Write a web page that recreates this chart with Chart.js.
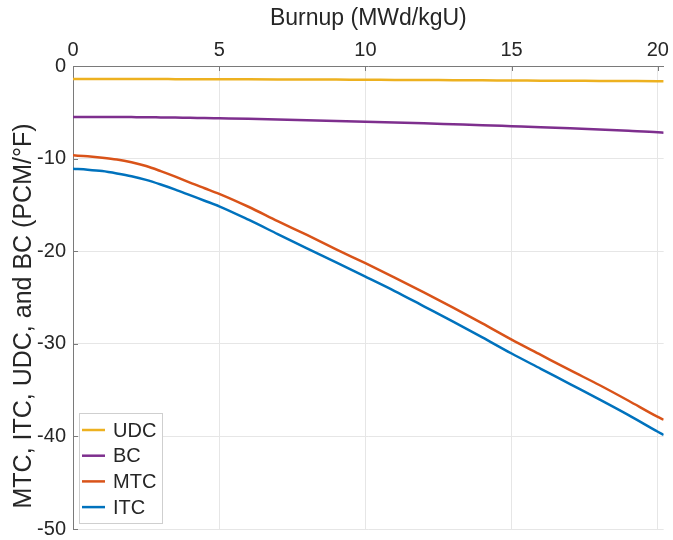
<!DOCTYPE html>
<html>
<head>
<meta charset="utf-8">
<script src="https://cdn.jsdelivr.net/npm/chart.js@4/dist/chart.umd.min.js"></script>
<style>
  html, body { margin: 0; padding: 0; background: #ffffff; }
  #wrap { width: 673px; height: 540px; position: relative; }
</style>
</head>
<body>
<div id="wrap"><canvas id="c" width="673" height="540"></canvas></div>
<script>
// ---- data ----
const burnup = [0, 0.5, 1, 1.5, 2, 2.5, 3, 3.5, 4, 4.5, 5, 6, 7, 8, 9, 10, 11, 12, 13, 14, 15, 16, 17, 18, 19, 20, 20.2];
const udc = [-1.40, -1.40, -1.40, -1.40, -1.41, -1.41, -1.41, -1.42, -1.42, -1.43, -1.43, -1.44, -1.45, -1.46, -1.47, -1.49, -1.50, -1.52, -1.53, -1.55, -1.56, -1.58, -1.59, -1.61, -1.62, -1.64, -1.65];
const bc  = [-5.50, -5.50, -5.50, -5.51, -5.52, -5.53, -5.55, -5.57, -5.60, -5.62, -5.65, -5.71, -5.78, -5.85, -5.93, -6.01, -6.10, -6.19, -6.29, -6.39, -6.50, -6.61, -6.73, -6.86, -7.00, -7.15, -7.20];
const mtc = [-9.65, -9.75, -9.90, -10.10, -10.40, -10.80, -11.35, -11.95, -12.60, -13.20, -13.80, -15.20, -16.75, -18.25, -19.80, -21.30, -22.85, -24.45, -26.10, -27.80, -29.55, -31.20, -32.85, -34.45, -36.15, -37.90, -38.20];
const itc = [-11.10, -11.20, -11.35, -11.60, -11.90, -12.30, -12.80, -13.35, -13.95, -14.55, -15.15, -16.60, -18.15, -19.70, -21.20, -22.75, -24.30, -25.95, -27.60, -29.30, -31.05, -32.70, -34.35, -36.00, -37.70, -39.50, -39.85];
const seriesNames = ['UDC', 'BC', 'MTC', 'ITC'];
const xTicks = [0, 5, 10, 15, 20];
const yTicks = [0, -10, -20, -30, -40, -50];
const xTitle = 'Burnup (MWd/kgU)';
const yTitle = 'MTC, ITC, UDC, and BC (PCM/°F)';

const colors = ['#EDB120', '#7E2F8E', '#D95319', '#0072BD'];
const textColor = '#262626';
const fontFamily = '"Liberation Sans", Arial, sans-serif';
const seriesValues = [udc, bc, mtc, itc];

const datasets = seriesValues.map((vals, i) => ({
  label: seriesNames[i],
  data: burnup.map((x, k) => ({ x: x, y: vals[k] })),
  borderColor: colors[i],
  backgroundColor: colors[i],
  borderWidth: 2.5,
  pointRadius: 0,
  cubicInterpolationMode: 'monotone',
  fill: false
}));

// custom legend box inside the plot (bottom-left), inward tick marks, y-axis title
const extras = {
  id: 'extras',
  afterDatasetsDraw(chart) {
    const ctx = chart.ctx;
    const xs = chart.scales.x, ys = chart.scales.y;
    const area = chart.chartArea;
    ctx.save();
    // inward tick marks
    ctx.strokeStyle = '#7a7a7a';
    ctx.lineWidth = 1;
    xs.ticks.forEach(t => {
      const px = Math.round(xs.getPixelForValue(t.value)) + 0.5;
      ctx.beginPath(); ctx.moveTo(px, area.top); ctx.lineTo(px, area.top + 5); ctx.stroke();
    });
    ys.ticks.forEach(t => {
      const py = Math.round(ys.getPixelForValue(t.value)) + 0.5;
      ctx.beginPath(); ctx.moveTo(area.left, py); ctx.lineTo(area.left + 5, py); ctx.stroke();
    });
    // y-axis title
    ctx.save();
    ctx.translate(24, 316);
    ctx.rotate(-Math.PI / 2);
    ctx.font = '25px ' + fontFamily;
    ctx.fillStyle = textColor;
    ctx.textAlign = 'center';
    ctx.textBaseline = 'middle';
    ctx.fillText(yTitle, 0, 0);
    ctx.restore();
    // legend
    const bx = area.left + 6, bw = 83, bh = 110;
    const by = area.bottom - 6 - bh;
    ctx.fillStyle = '#ffffff';
    ctx.fillRect(bx, by, bw, bh);
    ctx.strokeStyle = '#cfcfcf';
    ctx.lineWidth = 1;
    ctx.strokeRect(bx + 0.5, by + 0.5, bw, bh);
    ctx.font = '20px ' + fontFamily;
    ctx.textBaseline = 'middle';
    ctx.textAlign = 'left';
    chart.data.datasets.forEach((ds, i) => {
      const cy = by + 17 + i * 25.7;
      ctx.strokeStyle = ds.borderColor;
      ctx.lineWidth = 2.5;
      ctx.beginPath(); ctx.moveTo(bx + 3, cy); ctx.lineTo(bx + 26, cy); ctx.stroke();
      ctx.fillStyle = textColor;
      ctx.fillText(ds.label, bx + 34, cy + 1);
    });
    ctx.restore();
  }
};

new Chart(document.getElementById('c'), {
  type: 'line',
  data: { datasets: datasets },
  options: {
    responsive: false,
    animation: false,
    devicePixelRatio: 1,
    layout: { padding: { left: 0, top: 0, right: 7, bottom: 11 } },
    plugins: { legend: { display: false }, tooltip: { enabled: false } },
    scales: {
      x: {
        type: 'linear',
        position: 'top',
        min: 0,
        max: 20.2,
        afterBuildTicks: s => { s.ticks = xTicks.map(v => ({ value: v })); },
        afterFit: s => { s.height = 66; },
        ticks: { color: textColor, font: { size: 20, family: fontFamily }, padding: 4, maxRotation: 0, autoSkip: false },
        grid: { color: '#e6e6e6', drawTicks: false },
        border: { color: '#7a7a7a', width: 1 },
        title: { display: true, text: xTitle, color: textColor, font: { size: 23, family: fontFamily }, padding: { top: 5, bottom: 0 } }
      },
      y: {
        type: 'linear',
        min: -50,
        max: 0,
        afterBuildTicks: s => { s.ticks = yTicks.map(v => ({ value: v })); },
        afterFit: s => { s.width = 73; s.paddingBottom = 0; s.paddingTop = 0; },
        ticks: { color: textColor, font: { size: 20, family: fontFamily }, padding: 7, autoSkip: false },
        grid: { color: '#e6e6e6', drawTicks: false },
        border: { color: '#7a7a7a', width: 1 },
        title: { display: false }
      }
    }
  },
  plugins: [extras]
});
</script>
</body>
</html>
